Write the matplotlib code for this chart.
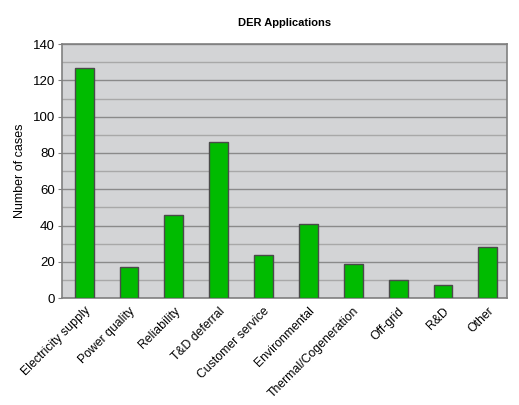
import matplotlib
matplotlib.use("Agg")
import matplotlib.pyplot as plt
import numpy as np

categories = ['Electricity supply', 'Power quality', 'Reliability', 'T&D deferral',
              'Customer service', 'Environmental', 'Thermal/Cogeneration',
              'Off-grid', 'R&D', 'Other']
cases = [127, 17, 46, 86, 24, 41, 19, 10, 7, 28]
y_ticks = [0, 20, 40, 60, 80, 100, 120, 140]

plt.rcParams['font.family'] = ['Liberation Sans', 'DejaVu Sans']

fig = plt.figure(figsize=(5.19, 4.05), dpi=100)
ax = fig.add_axes([0.119, 0.264, 0.858, 0.627])
ax.set_facecolor('#d3d4d6')

x = np.arange(len(categories))
ax.bar(x, cases, width=0.42, color='#00bb00', edgecolor='#4a4a4a', linewidth=1.0, zorder=3)

ax.set_ylim(0, 140)
ax.set_xlim(-0.5, 9.43)
ax.set_yticks(y_ticks)
ax.set_yticks(np.arange(10, 140, 20), minor=True)
ax.grid(True, which='major', axis='y', color='#8a8a8a', linewidth=1.0, zorder=1)
ax.grid(True, which='minor', axis='y', color='#a8a8a8', linewidth=1.0, zorder=1)
ax.tick_params(axis='y', which='major', labelsize=9.5, length=3, color='#808080', pad=2)
ax.tick_params(axis='y', which='minor', length=0)
ax.set_xticks(x)
ax.set_xticklabels(categories, rotation=45, ha='right', rotation_mode='anchor', fontsize=8.8)
ax.tick_params(axis='x', length=0, pad=5)

for s in ax.spines.values():
    s.set_color('#808080')
    s.set_linewidth(1.2)

ax.set_ylabel('Number of cases', fontsize=9, labelpad=5)
ax.set_title('DER Applications', fontsize=8, fontweight='bold', pad=13)

fig.savefig('out.png', dpi=100)
